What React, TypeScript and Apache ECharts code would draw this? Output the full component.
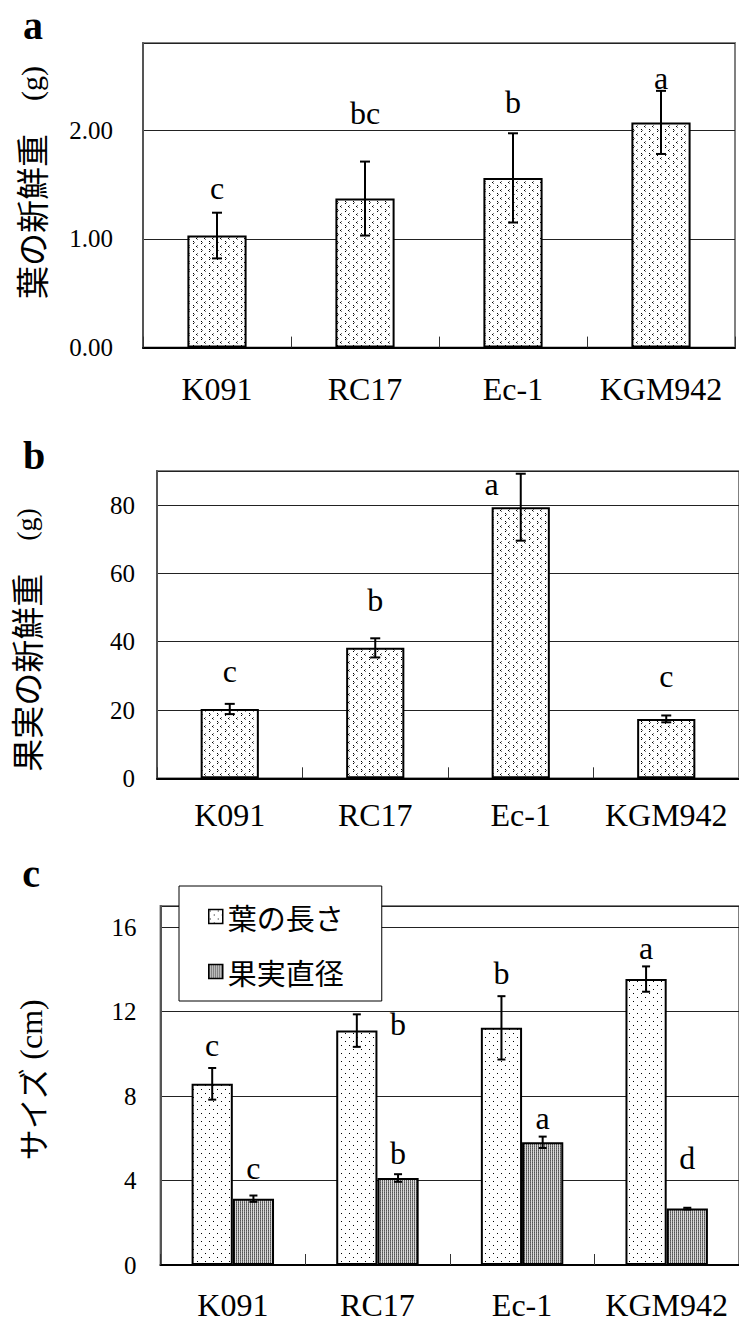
import React, { useEffect, useRef } from "react";
import * as echarts from "echarts";

const categories = ["K091", "RC17", "Ec-1", "KGM942"];

// Panel a: leaf fresh weight (g)
const leafWeight = [1.03, 1.37, 1.56, 2.07];
const leafWeightErr = [0.21, 0.34, 0.41, 0.29];
const leafWeightLetters = ["c", "bc", "b", "a"];
const leafWeightLetterY = [1.47, 2.16, 2.26, 2.48];
const leafWeightLetterSlot = [0, 0, 0, 0];
const axisA = { max: 2.8, interval: 1 };

// Panel b: fruit fresh weight (g)
const fruitWeight = [20.3, 38.2, 79.4, 17.4];
const fruitWeightErr = [1.5, 2.8, 9.8, 1.0];
const fruitWeightLetters = ["c", "b", "a", "c"];
const fruitWeightLetterY = [31.5, 52.1, 86.3, 29.9];
const fruitWeightLetterSlot = [0, 0, -1, 0];
const axisB = { max: 90, interval: 20 };

// Panel c: size (cm)
const legendNames = ["葉の長さ", "果実直径"];
const leafLength = [8.58, 11.1, 11.23, 13.54];
const leafLengthErr = [0.75, 0.77, 1.5, 0.6];
const leafLengthLetters = ["c", "b", "b", "a"];
const leafLengthLetterY = [10.43, 11.42, 13.84, 15.02];
const leafLengthLetterSlot = [-1, 1, -1, -1];
const fruitDiam = [3.14, 4.12, 5.81, 2.67];
const fruitDiamErr = [0.15, 0.18, 0.27, 0.04];
const fruitDiamLetters = ["c", "b", "a", "d"];
const fruitDiamLetterY = [4.6, 5.31, 6.97, 5.07];
const fruitDiamLetterSlot = [1, 1, 1, 1];
const axisC = { max: 17, interval: 4 };

const SERIF = "Liberation Serif, Times New Roman, serif";
const GOTHIC = "Noto Sans CJK JP, sans-serif";

function makePattern(w: number, h: number, bg: string, px: [number, number, string][]) {
  const c = document.createElement("canvas");
  c.width = w;
  c.height = h;
  const ctx = c.getContext("2d")!;
  ctx.fillStyle = bg;
  ctx.fillRect(0, 0, w, h);
  px.forEach(([x, y, col]) => {
    ctx.fillStyle = col;
    ctx.fillRect(x, y, 1, 1);
  });
  return { image: c, repeat: "repeat" };
}

export default function App() {
  const ref = useRef<HTMLDivElement>(null);

  useEffect(() => {
    if (!ref.current) return;
    const chart = echarts.init(ref.current, undefined, { renderer: "svg" });

    const patAB = makePattern(8, 8, "#ffffff", [
      [1, 1, "#000"], [2, 2, "#777"], [1, 3, "#000"],
      [5, 5, "#777"], [4, 6, "#000"], [5, 7, "#777"],
    ]);
    const patLeaf = makePattern(8, 8, "#ffffff", [
      [1, 1, "#000"], [5, 5, "#000"],
    ]);
    const patFruit = makePattern(2, 2, "#d8d8d8", [
      [0, 0, "#555"], [0, 1, "#777"],
    ]);

    const grids = [
      { left: 143, top: 43, width: 592, height: 304.6 },
      { left: 157, top: 471, width: 592, height: 307.3 },
      { left: 160.5, top: 906, width: 581, height: 359 },
    ];
    const labelMargins = [25, 21, 24];
    const yLabelMargins = [30, 22, 24];
    const yAxisCfg = [axisA, axisB, axisC];

    const xAxes = grids.map((_, i) => ({
      type: "category",
      gridIndex: i,
      data: categories,
      axisLine: { show: true, lineStyle: { color: "#000", width: 2 } },
      axisTick: { show: true, inside: true, length: 11, lineStyle: { color: "#333", width: 1 } },
      axisLabel: { interval: 0, margin: labelMargins[i], fontFamily: SERIF, fontSize: 32, color: "#000" },
      splitLine: { show: false },
    }));

    const yAxes = grids.map((_, i) => ({
      type: "value",
      gridIndex: i,
      min: 0,
      max: yAxisCfg[i].max,
      interval: yAxisCfg[i].interval,
      axisLine: { show: true, lineStyle: { color: "#555", width: 2 } },
      axisTick: { show: false },
      axisLabel: {
        margin: yLabelMargins[i],
        fontFamily: SERIF,
        fontSize: 25,
        color: "#000",
        showMaxLabel: false,
        formatter: (v: number) => (i === 0 ? v.toFixed(2) : String(v)),
      },
      splitLine: { show: true, lineStyle: { color: "#222", width: 1 } },
    }));

    const BAR_AB = 0.4;
    const BAR_C = 0.285;

    const errSeries = (
      gi: number,
      means: number[],
      errs: number[],
      slot: number,
      frac: number,
      cap: number
    ) => ({
      type: "custom",
      xAxisIndex: gi,
      yAxisIndex: gi,
      z: 5,
      silent: true,
      data: means.map((m, i) => [i, m, errs[i]]),
      encode: { x: 0, y: 1 },
      renderItem: (_p: any, api: any) => {
        const i = api.value(0);
        const m = api.value(1);
        const e = api.value(2);
        const bw = api.size([1, 0])[0];
        const hi = api.coord([i, m + e]);
        const lo = api.coord([i, m - e]);
        const x = hi[0] + slot * bw * frac / 2;
        const st = { stroke: "#000", lineWidth: 2 };
        return {
          type: "group",
          children: [
            { type: "line", shape: { x1: x, y1: hi[1], x2: x, y2: lo[1] }, style: st },
            { type: "line", shape: { x1: x - cap, y1: hi[1], x2: x + cap, y2: hi[1] }, style: st },
            { type: "line", shape: { x1: x - cap, y1: lo[1], x2: x + cap, y2: lo[1] }, style: st },
          ],
        };
      },
    });

    const letterSeries = (
      gi: number,
      ys: number[],
      letters: string[],
      slots: number[],
      frac: number
    ) => ({
      type: "custom",
      xAxisIndex: gi,
      yAxisIndex: gi,
      z: 6,
      silent: true,
      data: ys.map((y, i) => [i, y]),
      encode: { x: 0, y: 1 },
      renderItem: (p: any, api: any) => {
        const i = api.value(0);
        const y = api.value(1);
        const bw = api.size([1, 0])[0];
        const pt = api.coord([i, y]);
        const x = pt[0] + slots[p.dataIndex] * bw * frac / 2;
        return {
          type: "text",
          x,
          y: pt[1],
          style: {
            text: letters[p.dataIndex],
            fontFamily: SERIF,
            fontSize: 32,
            fill: "#000",
            align: "center",
            verticalAlign: "middle",
          },
        };
      },
    });

    const barStyle = (pat: any) => ({ color: pat, borderColor: "#000", borderWidth: 2 });

    const panelLabel = (t: string, x: number, y: number) => ({
      type: "text",
      x,
      y,
      style: { text: t, fontFamily: SERIF, fontWeight: "bold", fontSize: 40, fill: "#000", align: "center", verticalAlign: "middle" },
    });

    const axisTitle = (jp: string, unit: string, x: number, y: number, jpSize: number, unitSize: number) => ({
      type: "text",
      x,
      y,
      rotation: Math.PI / 2,
      style: {
        text: `{j|${jp}}{s|${unit}}`,
        align: "center",
        verticalAlign: "middle",
        fill: "#000",
        rich: {
          j: { fontFamily: GOTHIC, fontSize: jpSize, fill: "#000" },
          s: { fontFamily: SERIF, fontSize: unitSize, fill: "#000" },
        },
      },
    });

    const option: any = {
      animation: false,
      backgroundColor: "#fff",
      textStyle: { fontFamily: SERIF },
      grid: grids.map((g) => ({
        ...g,
        show: true,
        borderColor: "#808080",
        borderWidth: 2,
        backgroundColor: "transparent",
        containLabel: false,
      })),
      xAxis: xAxes,
      yAxis: yAxes,
      legend: {
        data: legendNames,
        orient: "vertical",
        left: 179,
        top: 886,
        padding: [16, 38, 15, 29],
        itemGap: 26,
        itemWidth: 14,
        itemHeight: 14,
        backgroundColor: "#fff",
        borderColor: "#000",
        borderWidth: 1,
        z: 20,
        selectedMode: false,
        icon: "rect",
        itemStyle: { borderColor: "#000", borderWidth: 1.5 },
        textStyle: { fontFamily: GOTHIC, fontSize: 29, color: "#000" },
      },
      graphic: [
        panelLabel("a", 33, 25),
        panelLabel("b", 34, 455),
        panelLabel("c", 31, 873),
        axisTitle("葉の新鮮重　", "(g)", 31, 182.5, 33, 30),
        axisTitle("果実の新鮮重　", "(g)", 26, 640, 33, 28),
        axisTitle("サイズ", " (cm)", 31, 1080, 31, 32),
      ],
      series: [
        { type: "bar", xAxisIndex: 0, yAxisIndex: 0, data: leafWeight, barWidth: `${BAR_AB * 100}%`, itemStyle: barStyle(patAB) },
        errSeries(0, leafWeight, leafWeightErr, 0, 0, 5),
        letterSeries(0, leafWeightLetterY, leafWeightLetters, leafWeightLetterSlot, BAR_AB),

        { type: "bar", xAxisIndex: 1, yAxisIndex: 1, data: fruitWeight, barWidth: `${BAR_AB * 100}%`, itemStyle: barStyle(patAB) },
        errSeries(1, fruitWeight, fruitWeightErr, 0, 0, 5),
        letterSeries(1, fruitWeightLetterY, fruitWeightLetters, fruitWeightLetterSlot, BAR_AB),

        { name: legendNames[0], type: "bar", xAxisIndex: 2, yAxisIndex: 2, data: leafLength, barWidth: `${BAR_C * 100}%`, barGap: "0%", itemStyle: barStyle(patLeaf) },
        { name: legendNames[1], type: "bar", xAxisIndex: 2, yAxisIndex: 2, data: fruitDiam, barWidth: `${BAR_C * 100}%`, barGap: "0%", itemStyle: barStyle(patFruit) },
        errSeries(2, leafLength, leafLengthErr, -1, BAR_C, 4),
        errSeries(2, fruitDiam, fruitDiamErr, 1, BAR_C, 4),
        letterSeries(2, leafLengthLetterY, leafLengthLetters, leafLengthLetterSlot, BAR_C),
        letterSeries(2, fruitDiamLetterY, fruitDiamLetters, fruitDiamLetterSlot, BAR_C),
      ],
    };

    chart.setOption(option);
    return () => chart.dispose();
  }, []);

  return (
    <div
      ref={ref}
      style={{ position: "absolute", left: 0, top: 0, width: 739, height: 1323, background: "#fff" }}
    />
  );
}
